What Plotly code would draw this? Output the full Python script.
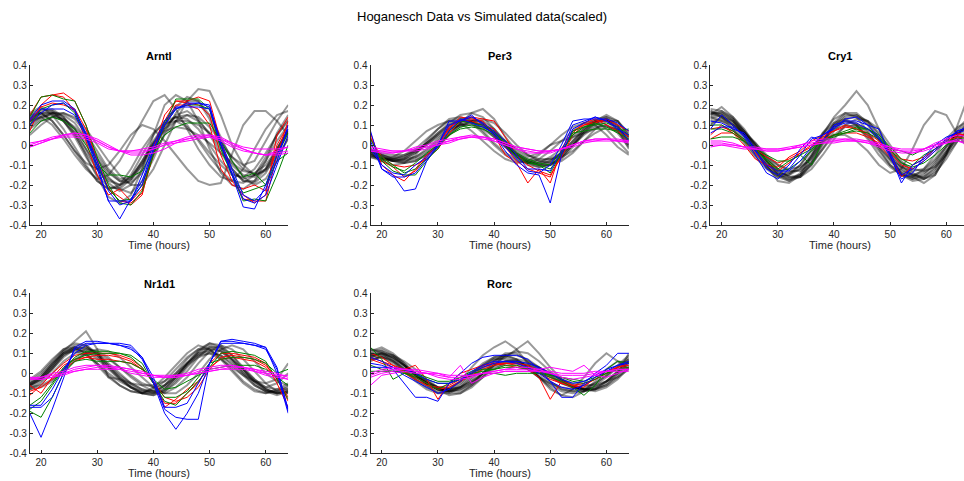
import plotly.graph_objects as go

T = [18, 20, 22, 24, 26, 28, 30, 32, 34, 36, 38, 40, 42, 44, 46, 48, 50, 52, 54, 56, 58, 60, 62, 64]
GENES = ["Arntl", "Per3", "Cry1", "Nr1d1", "Rorc"]
X_TICKS = [20, 30, 40, 50, 60]
Y_TICKS = [-0.4, -0.3, -0.2, -0.1, 0, 0.1, 0.2, 0.3, 0.4]
Y_LABELS = ["-0.4", "-0.3", "-0.2", "-0.1", "0", "0.1", "0.2", "0.3", "0.4"]

# ---------------- Arntl ----------------
ARNTL_GREY = [
    [.15,.18,.17,.12,.04,-.06,-.15,-.21,-.22,-.17,-.08,.02,.10,.14,.13,.08,.00,-.08,-.14,-.17,-.15,-.08,.02,.10],
    [.12,.16,.17,.14,.08,-.02,-.12,-.19,-.23,-.20,-.12,-.02,.08,.15,.17,.13,.05,-.04,-.12,-.18,-.18,-.12,-.02,.08],
    [.10,.14,.16,.15,.11,.03,-.07,-.16,-.22,-.24,-.18,-.07,.06,.16,.22,.22,.15,.04,-.08,-.16,-.20,-.17,-.08,.04],
    [.16,.19,.15,.08,-.01,-.10,-.18,-.22,-.20,-.12,-.02,.06,.11,.12,.09,.03,-.04,-.10,-.15,-.16,-.12,-.04,.05,.12],
    [.08,.12,.14,.13,.09,.03,-.05,-.13,-.18,-.19,-.14,-.05,.05,.12,.15,.14,.09,.02,-.06,-.12,-.15,-.13,-.06,.03],
    [.13,.17,.18,.14,.06,-.05,-.16,-.26,-.29,-.25,-.12,.05,.20,.25,.22,.12,-.02,-.14,-.20,-.22,-.18,-.08,.06,.15],
    [.05,.10,.14,.16,.14,.08,.00,-.08,-.15,-.20,-.20,-.12,.00,.12,.22,.28,.27,.15,.00,-.10,-.15,-.12,-.02,.08],
    [.15,.16,.12,.05,-.03,-.09,-.12,-.10,-.03,.05,.10,.08,.02,-.05,-.12,-.18,-.20,-.19,-.05,.10,.17,.17,.12,.05],
    [.12,.15,.16,.13,.08,.01,-.07,-.14,-.18,-.17,-.10,.00,.08,.12,.12,.10,.06,.00,-.06,-.10,-.08,.02,.12,.20],
    [.14,.16,.12,.05,-.03,-.11,-.18,-.22,-.21,-.15,-.05,.05,.12,.14,.10,.02,-.06,-.13,-.18,-.19,-.15,-.06,.05,.13],
    [.09,.13,.16,.16,.13,.06,-.03,-.12,-.17,-.16,-.09,.01,.10,.19,.24,.22,.13,.00,-.12,-.18,-.19,-.14,-.04,.07],
    [.11,.14,.15,.12,.06,-.02,-.10,-.17,-.20,-.18,-.10,.00,.09,.14,.15,.12,.06,-.02,-.10,-.15,-.16,-.12,-.04,.06],
    [.12,.14,.10,.03,-.05,-.12,-.17,-.15,-.08,.02,.12,.22,.25,.18,.08,-.02,-.10,-.16,-.18,-.12,-.02,.08,.15,.17],
    [.13,.16,.16,.12,.05,-.04,-.12,-.18,-.20,-.16,-.08,.01,.07,.09,.08,.05,.01,-.04,-.09,-.13,-.14,-.10,-.02,.07],
]
ARNTL_RED = [
    [.15,.24,.25,.26,.22,.10,-.08,-.22,-.28,-.29,-.24,-.05,.12,.22,.22,.24,.22,.02,-.15,-.27,-.28,-.28,-.05,.12],
    [.12,.19,.21,.20,.18,.08,-.08,-.22,-.26,-.30,-.25,-.02,.15,.22,.21,.20,.15,-.05,-.18,-.25,-.29,-.25,.05,.14],
    [.07,.20,.25,.24,.17,.02,-.15,-.25,-.22,-.28,-.22,-.05,.10,.20,.20,.18,.10,-.12,-.20,-.22,-.20,-.23,.00,.10],
]
ARNTL_GREEN = [
    [.14,.24,.25,.23,.22,.10,-.06,-.20,-.29,-.30,-.23,-.05,.10,.23,.23,.23,.18,.00,-.15,-.28,-.27,-.28,-.15,.00],
    [.06,.12,.14,.12,.08,.00,-.10,-.15,-.15,-.16,-.13,-.03,.05,.09,.11,.11,.11,.02,-.08,-.16,-.14,-.20,-.08,-.04],
    [.10,.18,.20,.21,.16,.05,-.10,-.22,-.28,-.27,-.20,-.04,.12,.18,.20,.20,.18,-.02,-.15,-.24,-.22,-.20,-.05,.06],
]
ARNTL_BLUE = [
    [.13,.20,.22,.22,.18,.05,-.10,-.28,-.37,-.27,-.18,-.02,.10,.18,.20,.21,.20,.00,-.15,-.31,-.32,-.20,-.05,.08],
    [.12,.18,.18,.18,.15,.04,-.12,-.28,-.28,-.28,-.15,.00,.12,.19,.19,.19,.18,.00,-.14,-.27,-.29,-.25,-.10,.05],
    [.10,.16,.20,.21,.17,.06,-.08,-.23,-.30,-.28,-.20,-.03,.10,.18,.21,.21,.19,.02,-.12,-.25,-.28,-.22,-.08,.10],
]
ARNTL_MAGENTA = [
    [-.01,.01,.03,.04,.04,.03,.01,-.02,-.03,-.03,-.02,-.01,.01,.02,.03,.04,.04,.02,-.01,-.03,-.04,-.05,-.04,-.03],
    [.01,.02,.03,.05,.06,.05,.02,-.01,-.03,-.04,-.04,-.02,.00,.02,.04,.05,.05,.03,.00,-.02,-.04,-.05,-.05,-.04],
    [-.01,.01,.03,.05,.06,.05,.03,.00,-.03,-.05,-.05,-.04,-.02,.01,.03,.04,.05,.04,.01,-.02,-.04,-.05,-.03,-.01],
    [.00,.02,.04,.05,.05,.04,.02,-.01,-.03,-.03,-.03,-.02,.00,.01,.02,.03,.04,.03,.01,-.01,-.02,-.02,-.02,-.01],
]

# ---------------- Per3 ----------------
PER3_GREY = [
    [-.03,-.06,-.08,-.08,-.06,-.02,.03,.08,.11,.12,.10,.05,-.01,-.06,-.09,-.10,-.08,-.04,.02,.08,.12,.12,.07,.00],
    [-.05,-.07,-.08,-.07,-.04,.00,.05,.10,.13,.14,.11,.06,.00,-.05,-.08,-.10,-.09,-.05,.01,.07,.11,.13,.10,.03],
    [-.02,-.05,-.07,-.08,-.07,-.04,.01,.06,.10,.12,.12,.08,.02,-.04,-.08,-.10,-.10,-.07,-.01,.06,.11,.14,.12,.05],
    [-.06,-.08,-.07,-.05,-.02,.03,.08,.12,.13,.11,.06,.00,-.05,-.08,-.09,-.07,-.03,.02,.07,.11,.12,.08,.02,-.04],
    [-.04,-.06,-.08,-.09,-.08,-.05,.00,.05,.09,.12,.13,.11,.06,.00,-.05,-.08,-.09,-.08,-.04,.02,.08,.12,.12,.06],
    [-.05,-.07,-.06,-.03,.02,.07,.10,.12,.11,.07,.02,-.03,-.07,-.09,-.08,-.05,.00,.05,.09,.11,.10,.05,-.01,-.05],
    [-.03,-.05,-.06,-.06,-.03,.01,.06,.11,.15,.16,.14,.08,.01,-.05,-.09,-.11,-.10,-.06,.00,.07,.12,.15,.12,.04],
    [-.04,-.06,-.08,-.09,-.08,-.05,-.01,.05,.11,.16,.18,.13,.04,-.03,-.06,-.04,.00,.02,.04,.06,.08,.10,.06,-.01],
    [-.02,-.04,-.05,-.05,-.03,.00,.04,.08,.10,.10,.08,.04,.00,-.04,-.07,-.08,-.07,-.04,.00,.05,.09,.10,.07,.02],
    [-.06,-.07,-.07,-.06,-.03,.01,.05,.09,.12,.13,.11,.06,.00,-.06,-.10,-.11,-.10,-.06,.00,.06,.10,.13,.09,.02],
    [-.04,-.08,-.10,-.09,-.05,.02,.08,.13,.14,.12,.07,.01,-.04,-.07,-.09,-.09,-.06,-.02,.04,.09,.13,.14,.10,.00],
    [-.03,-.05,-.07,-.07,-.06,-.03,.02,.07,.10,.11,.10,.06,.02,-.02,-.05,-.07,-.07,-.06,-.03,.02,.06,.09,.08,.04],
    [-.05,-.07,-.08,-.07,-.04,.01,.06,.10,.12,.12,.09,.04,-.01,-.05,-.08,-.09,-.08,-.04,.02,.08,.12,.13,.08,-.02],
]
PER3_RED = [
    [.06,-.10,-.15,-.18,-.12,-.05,.00,.08,.14,.13,.12,.05,-.05,-.09,-.19,-.12,-.19,-.02,.07,.10,.12,.12,.09,.04],
    [.03,-.06,-.10,-.11,-.10,-.07,-.02,.06,.12,.14,.13,.12,.04,-.05,-.10,-.13,-.15,-.06,.05,.10,.11,.13,.10,.07],
    [.04,-.08,-.11,-.16,-.13,-.06,.00,.09,.12,.12,.10,.08,-.01,-.08,-.12,-.14,-.16,-.04,.06,.11,.13,.10,.07,.02],
]
PER3_GREEN = [
    [.03,-.08,-.13,-.15,-.15,-.08,-.01,.05,.09,.10,.09,.06,.02,-.05,-.08,-.10,-.14,-.04,.06,.07,.08,.08,.07,.08],
    [.00,-.06,-.10,-.14,-.12,-.07,-.02,.07,.12,.11,.10,.07,.00,-.06,-.09,-.10,-.12,-.05,.07,.09,.10,.11,.09,.05],
    [-.02,-.07,-.11,-.13,-.09,-.04,.00,.05,.08,.09,.08,.05,.01,-.04,-.07,-.09,-.10,-.03,.05,.09,.11,.09,.06,.03],
]
PER3_BLUE = [
    [.07,-.12,-.15,-.23,-.22,-.08,.00,.12,.12,.15,.10,.05,-.03,-.10,-.14,-.15,-.29,-.05,.08,.11,.14,.12,.08,.05],
    [.02,-.12,-.16,-.16,-.14,-.07,-.01,.07,.13,.11,.09,.06,-.01,-.07,-.13,-.14,-.10,.00,.12,.13,.13,.13,.11,.07],
    [-.02,-.10,-.14,-.15,-.10,-.06,.00,.10,.12,.14,.11,.07,.02,-.05,-.12,-.12,-.13,-.03,.10,.12,.14,.12,.09,.02],
]
PER3_MAGENTA = [
    [-.03,-.03,-.03,-.03,-.02,-.01,.00,.02,.03,.04,.04,.03,.01,-.01,-.02,-.03,-.03,-.02,.00,.02,.03,.03,.02,.01],
    [-.02,-.03,-.04,-.03,-.02,-.01,.01,.02,.04,.05,.04,.02,.00,-.02,-.04,-.04,-.03,-.02,.00,.02,.03,.03,.02,.02],
    [-.01,-.02,-.03,-.03,-.03,-.02,.00,.01,.03,.04,.04,.03,.01,-.01,-.02,-.03,-.03,-.02,-.01,.01,.02,.03,.03,.02],
    [-.03,-.04,-.04,-.03,-.01,.00,.02,.03,.04,.04,.03,.02,.00,-.02,-.03,-.04,-.04,-.02,.00,.02,.02,.02,.02,.02],
]

# ---------------- Cry1 ----------------
CRY1_GREY = [
    [.16,.14,.10,.05,-.02,-.09,-.14,-.15,-.12,-.05,.03,.09,.12,.11,.06,-.01,-.08,-.13,-.15,-.13,-.08,-.01,.06,.10],
    [.18,.17,.13,.07,.00,-.08,-.15,-.18,-.16,-.09,.01,.10,.15,.15,.10,.02,-.07,-.14,-.17,-.16,-.11,-.03,.05,.12],
    [.12,.13,.11,.06,.00,-.07,-.12,-.14,-.12,-.06,.02,.08,.10,.09,.05,-.01,-.07,-.11,-.13,-.12,-.07,.00,.06,.09],
    [.15,.19,.14,.07,-.02,-.10,-.18,-.19,-.15,-.06,.05,.14,.20,.27,.20,.08,-.05,-.15,-.18,-.17,-.13,-.04,.08,.14],
    [.14,.12,.08,.02,-.05,-.11,-.15,-.14,-.10,-.03,.05,.10,.12,.10,.04,-.03,-.10,-.14,-.16,-.14,-.10,-.03,.03,.07],
    [.17,.15,.10,.03,-.04,-.10,-.15,-.17,-.15,-.08,.02,.11,.16,.16,.11,.03,-.05,-.12,-.16,-.19,-.15,-.05,.05,.11],
    [.10,.14,.12,.05,-.02,-.06,-.10,-.12,-.11,-.07,.02,.05,.05,.02,-.03,-.10,-.14,-.12,-.02,.10,.17,.15,.05,-.02],
    [.13,.15,.12,.07,.01,-.06,-.12,-.16,-.16,-.12,-.05,.03,.10,.13,.12,.08,.00,-.08,-.14,-.17,-.15,-.05,.10,.25],
    [.16,.16,.12,.05,-.03,-.11,-.16,-.18,-.14,-.05,.06,.13,.16,.14,.07,-.02,-.10,-.15,-.17,-.15,-.09,-.01,.07,.12],
    [.11,.12,.10,.06,.01,-.05,-.10,-.13,-.13,-.09,-.02,.05,.09,.10,.08,.03,-.03,-.09,-.12,-.13,-.11,-.05,.02,.07],
    [.15,.17,.14,.08,.00,-.08,-.14,-.17,-.16,-.10,.00,.09,.14,.15,.12,.05,-.04,-.11,-.15,-.16,-.12,-.04,.04,.10],
    [.17,.14,.08,.01,-.06,-.12,-.16,-.15,-.10,-.02,.06,.11,.13,.10,.03,-.05,-.11,-.15,-.16,-.12,-.05,.03,.09,.12],
    [.14,.16,.13,.06,-.01,-.08,-.13,-.16,-.15,-.10,-.02,.07,.13,.14,.12,.06,-.02,-.10,-.15,-.17,-.14,-.07,.02,.09],
]
CRY1_RED = [
    [.05,.10,.06,.00,-.07,-.10,-.11,-.06,-.03,.02,.05,.07,.10,.08,.05,.00,-.06,-.16,-.10,-.07,-.02,.03,.05,.05],
    [.08,.09,.07,.02,-.04,-.10,-.13,-.09,-.04,.00,.04,.07,.09,.08,.06,.02,-.04,-.10,-.12,-.08,-.03,.02,.06,.04],
    [.03,.06,.06,.02,-.02,-.06,-.09,-.07,-.04,-.01,.03,.05,.06,.06,.04,.01,-.03,-.07,-.08,-.06,-.02,.02,.04,.03],
]
CRY1_GREEN = [
    [.03,.04,.04,.02,-.03,-.07,-.12,-.08,-.05,-.10,.02,.05,.06,.08,.08,.05,-.01,-.07,-.10,-.05,-.02,.02,.03,.02],
    [.08,.08,.06,.02,-.02,-.05,-.08,-.08,-.05,-.02,.02,.04,.06,.07,.06,.03,-.02,-.03,-.05,-.02,.00,.02,.02,.01],
    [.10,.10,.07,.03,-.02,-.08,-.13,-.12,-.08,-.03,.02,.05,.07,.09,.08,.04,-.02,-.09,-.11,-.09,-.05,.00,.03,.04],
]
CRY1_BLUE = [
    [.08,.15,.10,.04,-.05,-.14,-.17,-.12,-.05,.03,.05,.08,.13,.14,.10,.08,-.05,-.19,-.10,-.07,-.02,.03,.07,.09],
    [.12,.11,.08,.06,-.02,-.12,-.15,-.10,-.02,.04,.02,.10,.12,.12,.10,.04,-.06,-.17,-.14,-.06,.00,.04,.06,.08],
    [.06,.09,.09,.05,-.03,-.10,-.13,-.13,-.08,-.01,.05,.09,.11,.11,.08,.03,-.04,-.15,-.12,-.08,-.03,.02,.07,.09],
]
CRY1_MAGENTA = [
    [.00,.00,-.01,-.02,-.02,-.02,-.02,-.01,.00,.01,.02,.02,.02,.02,.01,.00,-.02,-.03,-.03,-.02,.00,.02,.02,.01],
    [.01,.01,.00,-.01,-.02,-.03,-.03,-.02,-.01,.00,.01,.02,.03,.03,.02,.01,-.01,-.03,-.04,-.03,-.01,.01,.03,.02],
    [-.01,.00,.00,-.01,-.01,-.02,-.02,-.02,-.01,.00,.01,.01,.02,.02,.02,.00,-.01,-.02,-.02,-.02,.00,.01,.02,.00],
    [.02,.02,.01,-.01,-.02,-.03,-.03,-.02,.00,.02,.03,.03,.03,.02,.01,-.01,-.03,-.04,-.04,-.02,.01,.03,.05,.04],
]

# ---------------- Nr1d1 ----------------
NR1D1_GREY = [
    [-.06,-.03,.03,.10,.13,.12,.08,.03,-.02,-.06,-.09,-.10,-.08,-.03,.04,.10,.13,.11,.06,.01,-.04,-.08,-.10,-.09],
    [-.07,-.04,.02,.08,.12,.13,.10,.05,.00,-.05,-.08,-.10,-.09,-.05,.01,.08,.13,.13,.09,.03,-.03,-.08,-.10,-.10],
    [-.05,-.01,.05,.11,.12,.10,.05,-.01,-.06,-.09,-.10,-.08,-.04,.02,.08,.12,.12,.08,.02,-.04,-.08,-.10,-.09,-.06],
    [-.08,-.05,.00,.06,.10,.12,.11,.08,.03,-.02,-.06,-.09,-.10,-.07,-.02,.05,.11,.14,.12,.07,.01,-.05,-.09,-.10],
    [-.04,.00,.06,.12,.15,.14,.09,.03,-.03,-.07,-.10,-.10,-.06,.00,.07,.12,.15,.13,.07,.00,-.06,-.09,-.09,-.07],
    [-.05,-.02,.04,.11,.16,.21,.12,-.02,-.03,-.05,-.06,-.06,-.04,.00,.05,.09,.10,.07,.03,-.01,-.04,-.05,-.03,.05],
    [-.08,-.07,-.04,.01,.06,.10,.12,.11,.08,.03,-.02,-.07,-.10,-.10,-.06,.00,.07,.12,.14,.12,.06,.00,-.04,-.06],
    [-.06,-.03,.02,.09,.13,.13,.09,.04,-.01,-.05,-.08,-.09,-.07,-.02,.05,.11,.14,.12,.07,.02,-.03,-.07,-.08,-.08],
    [-.03,.01,.07,.12,.13,.10,.04,-.02,-.06,-.09,-.10,-.07,-.02,.04,.10,.14,.12,.07,.01,-.05,-.09,-.10,-.08,-.05],
    [-.07,-.06,-.03,.02,.07,.10,.10,.07,.03,-.01,-.05,-.07,-.06,-.02,.04,.08,.10,.09,.05,.00,-.04,-.07,-.05,.00],
    [-.05,-.02,.04,.10,.14,.14,.10,.04,-.02,-.07,-.10,-.11,-.08,-.02,.05,.11,.15,.14,.09,.02,-.05,-.09,-.11,-.09],
    [-.06,-.02,.05,.10,.11,.09,.05,.00,-.04,-.07,-.09,-.09,-.06,-.01,.05,.10,.11,.09,.04,-.01,-.06,-.09,-.10,-.08],
    [-.06,-.03,.03,.09,.12,.11,.07,.02,-.03,-.07,-.10,-.11,-.09,-.04,.03,.09,.12,.11,.07,.02,-.04,-.08,-.10,-.09],
]
NR1D1_RED = [
    [-.11,-.06,.00,.05,.09,.10,.10,.10,.09,.07,.03,-.05,-.15,-.15,-.10,-.05,.05,.10,.10,.09,.08,.05,-.05,-.17],
    [-.06,-.10,-.02,.04,.07,.08,.07,.07,.06,.05,.02,-.04,-.17,-.13,-.08,-.04,.03,.07,.08,.07,.06,.03,-.03,-.12],
    [-.09,-.07,-.03,.02,.06,.08,.09,.09,.08,.06,.02,-.04,-.12,-.14,-.12,-.07,.02,.08,.09,.08,.07,.04,-.02,-.14],
]
NR1D1_GREEN = [
    [-.16,-.12,-.05,.03,.07,.09,.10,.10,.10,.09,.05,-.05,-.12,-.12,-.09,-.02,.05,.07,.08,.08,.07,.05,.00,.02],
    [-.19,-.22,-.12,.00,.06,.07,.06,.06,.06,.05,.02,-.03,-.08,-.07,-.04,-.01,.02,.03,.04,.04,.04,.02,-.02,-.06],
    [-.18,-.14,-.06,.02,.08,.11,.11,.11,.10,.08,.03,-.05,-.14,-.16,-.10,-.04,.03,.10,.11,.10,.09,.06,-.03,-.13],
]
NR1D1_BLUE = [
    [-.20,-.32,-.18,-.03,.13,.16,.16,.15,.15,.14,.08,-.05,-.20,-.28,-.20,-.10,.05,.16,.17,.16,.15,.13,.00,-.20],
    [-.17,-.17,-.12,.00,.12,.15,.15,.15,.14,.12,.08,-.02,-.17,-.17,-.15,-.05,.05,.15,.15,.15,.14,.12,.02,-.18],
    [-.16,-.16,-.08,.02,.10,.14,.15,.15,.14,.13,.07,-.04,-.18,-.22,-.23,-.23,.05,.16,.16,.15,.14,.13,.03,-.19],
]
NR1D1_MAGENTA = [
    [-.02,-.03,-.02,-.01,.01,.02,.03,.03,.03,.02,.01,-.01,-.02,-.02,-.01,.00,.01,.02,.03,.03,.02,.01,.00,-.02],
    [-.03,-.03,-.02,.00,.02,.03,.04,.04,.03,.02,.00,-.01,-.02,-.02,-.01,.01,.02,.03,.04,.03,.02,.00,-.01,-.03],
    [-.02,-.02,-.01,.00,.01,.02,.02,.02,.02,.01,.00,-.01,-.01,-.01,-.01,.00,.01,.02,.02,.02,.01,.00,-.01,-.01],
    [-.03,-.02,.00,.01,.03,.04,.04,.03,.02,.00,-.01,-.02,-.02,-.01,.00,.02,.03,.04,.04,.03,.01,-.01,-.02,-.03],
]

# ---------------- Rorc ----------------
RORC_GREY = [
    [.10,.09,.06,.02,-.02,-.05,-.08,-.09,-.08,-.05,-.01,.03,.05,.05,.04,.02,-.01,-.04,-.06,-.08,-.08,-.06,-.02,.04],
    [.08,.10,.08,.04,.00,-.04,-.07,-.09,-.09,-.06,-.02,.02,.05,.06,.05,.03,.00,-.03,-.06,-.08,-.09,-.07,-.03,.03],
    [.11,.13,.10,.05,-.01,-.06,-.10,-.10,-.07,-.02,.03,.07,.08,.06,.02,-.02,-.05,-.07,-.08,-.07,-.05,-.01,.03,.08],
    [.07,.08,.07,.04,.00,-.04,-.08,-.11,-.10,-.06,.00,.06,.10,.10,.06,.01,-.04,-.08,-.09,-.08,-.05,-.01,.04,.09],
    [.06,.09,.08,.04,-.01,-.05,-.08,-.08,-.04,.03,.09,.13,.16,.12,.05,-.02,-.08,-.11,-.12,-.09,-.04,.02,.06,.05],
    [.09,.11,.09,.05,.00,-.04,-.07,-.08,-.07,-.04,.00,.05,.08,.12,.16,.10,.03,-.03,-.07,-.09,-.08,-.04,.01,.06],
    [.12,.11,.07,.02,-.03,-.07,-.09,-.08,-.05,.00,.04,.07,.07,.05,.02,-.02,-.06,-.09,-.10,-.09,-.06,-.02,.03,.07],
    [.09,.08,.05,.01,-.03,-.06,-.08,-.07,-.04,.00,.05,.08,.09,.07,.03,-.02,-.07,-.11,-.08,-.02,.05,.10,.06,.02],
    [.10,.12,.09,.04,-.01,-.05,-.08,-.09,-.07,-.03,.02,.06,.09,.09,.07,.03,-.01,-.05,-.07,-.08,-.07,-.04,.01,.07],
    [.08,.10,.09,.06,.02,-.03,-.07,-.10,-.10,-.07,-.02,.04,.09,.11,.10,.06,.01,-.04,-.07,-.08,-.07,-.04,.00,.05],
    [.12,.10,.06,.01,-.04,-.08,-.10,-.09,-.06,-.01,.04,.08,.09,.07,.03,-.01,-.05,-.08,-.09,-.09,-.08,-.05,.00,.10],
    [.07,.08,.06,.03,-.01,-.05,-.07,-.08,-.07,-.04,.00,.04,.06,.07,.06,.03,.00,-.03,-.05,-.06,-.06,-.04,-.02,.02],
    [.09,.10,.08,.04,-.01,-.05,-.08,-.09,-.08,-.05,.00,.04,.06,.06,.04,.01,-.02,-.05,-.07,-.08,-.08,-.06,-.01,.06],
]
RORC_RED = [
    [.08,.06,.04,.02,.04,-.03,-.13,-.05,.00,.02,.04,.05,.04,.03,.02,-.02,-.13,-.04,-.06,-.07,-.02,.01,.03,.04],
    [.10,.08,.04,.00,-.03,-.06,-.07,-.06,-.03,.00,.03,.05,.05,.04,.02,.00,-.03,-.05,-.06,-.05,-.03,.00,.03,.05],
    [.07,.05,.03,.01,-.02,-.05,-.08,-.07,-.04,-.01,.02,.04,.05,.05,.04,.01,-.02,-.05,-.07,-.06,-.03,.00,.02,.03],
]
RORC_GREEN = [
    [.13,.07,-.03,.00,-.02,-.05,-.08,-.05,-.02,.01,.02,.02,.04,.04,.02,.00,-.02,-.04,-.07,-.11,-.06,.02,.06,.05],
    [.04,.02,.01,.01,.00,-.02,-.04,-.04,-.02,.00,.01,.02,.03,.03,.02,.01,-.01,-.02,-.03,-.04,-.02,.00,.02,.02],
    [.01,.01,.01,.00,-.01,-.03,-.05,-.05,-.03,-.01,.00,.00,-.01,.00,.00,.00,-.01,-.02,-.04,-.05,-.03,.00,.02,.03],
]
RORC_BLUE = [
    [.05,.04,.02,-.05,-.12,-.12,-.14,-.05,.00,.05,.08,.09,.09,.09,.07,.02,-.04,-.12,-.12,-.05,.00,.04,.10,.10],
    [.03,.03,.03,.02,.00,-.03,-.05,-.05,-.03,.00,.03,.05,.06,.06,.05,.03,.00,-.03,-.05,-.04,-.01,.02,.04,.06],
    [.08,.06,.03,-.01,-.04,-.07,-.10,-.08,-.04,.01,.04,.06,.06,.05,.03,.00,-.04,-.07,-.08,-.06,-.02,.01,.04,.05],
]
RORC_MAGENTA = [
    [-.06,-.01,.00,.01,.00,.00,.00,-.02,.04,-.05,-.02,.00,.01,.01,.01,.02,.03,.02,.01,.04,-.01,-.02,.00,.02],
    [-.01,.01,.02,.02,.01,.00,-.01,-.02,-.02,-.01,.00,.01,.02,.02,.02,.01,.00,-.01,-.01,-.01,.00,.01,.02,.02],
    [.00,.02,.03,.02,.01,.00,-.02,-.03,-.03,-.02,.00,.01,.02,.03,.03,.02,.00,-.02,-.03,-.02,-.01,.01,.02,.02],
    [-.02,.00,.01,.02,.02,.01,.00,-.01,-.01,-.01,.00,.00,.01,.01,.01,.01,.01,.00,.00,.00,.01,.01,.01,.01],
]

PANELS = [
    (ARNTL_GREY, ARNTL_RED, ARNTL_GREEN, ARNTL_BLUE, ARNTL_MAGENTA),
    (PER3_GREY, PER3_RED, PER3_GREEN, PER3_BLUE, PER3_MAGENTA),
    (CRY1_GREY, CRY1_RED, CRY1_GREEN, CRY1_BLUE, CRY1_MAGENTA),
    (NR1D1_GREY, NR1D1_RED, NR1D1_GREEN, NR1D1_BLUE, NR1D1_MAGENTA),
    (RORC_GREY, RORC_RED, RORC_GREEN, RORC_BLUE, RORC_MAGENTA),
]

W, H = 964, 481
PX_PER_H = 224.7 / 40.0
# pixel boxes (left, right, top, bottom) for each panel
BOXES = [
    (29.8, 288.2, 65.0, 225.0),
    (370.5, 628.9, 65.0, 225.0),
    (710.4, 968.8, 65.0, 225.0),
    (29.8, 288.2, 293.3, 453.3),
    (370.5, 628.9, 293.3, 453.3),
]

fig = go.Figure()
FONT = "Liberation Sans, Arial, Helvetica, sans-serif"
AX_COLOR = "#262626"

for i, (grey, red, green, blue, magenta) in enumerate(PANELS):
    n = i + 1
    xa = "x" if n == 1 else f"x{n}"
    ya = "y" if n == 1 else f"y{n}"
    for s in grey:
        fig.add_trace(go.Scatter(x=T, y=s, mode="lines", xaxis=xa, yaxis=ya,
                                 line=dict(color="rgba(0,0,0,0.4)", width=2), showlegend=False,
                                 hoverinfo="skip"))
    for series, col in ((red, "#ff0000"), (green, "#008000"), (blue, "#0000ff"), (magenta, "#ff00ff")):
        for s in series:
            fig.add_trace(go.Scatter(x=T, y=s, mode="lines", xaxis=xa, yaxis=ya,
                                     line=dict(color=col, width=1), showlegend=False,
                                     hoverinfo="skip"))
    l, r, t, b = BOXES[i]
    rr = min(r, W)
    x_max = 18 + (rr - l) / PX_PER_H
    xkey = "xaxis" if n == 1 else f"xaxis{n}"
    ykey = "yaxis" if n == 1 else f"yaxis{n}"
    fig.update_layout(**{
        xkey: dict(domain=[l / W, rr / W], range=[18, x_max], anchor=ya,
                   tickvals=X_TICKS, ticks="inside", ticklen=3, tickcolor=AX_COLOR,
                   showline=True, linecolor=AX_COLOR, linewidth=1, showgrid=False, zeroline=False,
                   tickfont=dict(size=10, color=AX_COLOR, family=FONT)),
        ykey: dict(domain=[1 - b / H, 1 - t / H], range=[-0.4, 0.4], anchor=xa,
                   tickvals=Y_TICKS, ticktext=Y_LABELS, ticks="inside", ticklen=3, tickcolor=AX_COLOR,
                   showline=True, linecolor=AX_COLOR, linewidth=1, showgrid=False, zeroline=False,
                   tickfont=dict(size=10, color=AX_COLOR, family=FONT)),
    })
    cx = (l + r) / 2 / W
    fig.add_annotation(x=cx, y=1 - (t - 9.5) / H, xref="paper", yref="paper", text=f"<b>{GENES[i]}</b>",
                       showarrow=False, yanchor="middle", xanchor="center",
                       font=dict(size=11, color="#000", family=FONT))
    fig.add_annotation(x=cx, y=1 - (b + 20) / H, xref="paper", yref="paper", text="Time (hours)",
                       showarrow=False, yanchor="middle", xanchor="center",
                       font=dict(size=11, color=AX_COLOR, family=FONT))

fig.add_annotation(x=482 / W, y=1 - 16 / H, xref="paper", yref="paper",
                   text="Hoganesch Data vs Simulated data(scaled)", showarrow=False,
                   yanchor="middle", xanchor="center",
                   font=dict(size=13, color="#000", family=FONT))

fig.update_layout(width=W, height=H, margin=dict(l=0, r=0, t=0, b=0, pad=0, autoexpand=False),
                  paper_bgcolor="white", plot_bgcolor="white", font=dict(family=FONT))

fig.write_html("out.html")
